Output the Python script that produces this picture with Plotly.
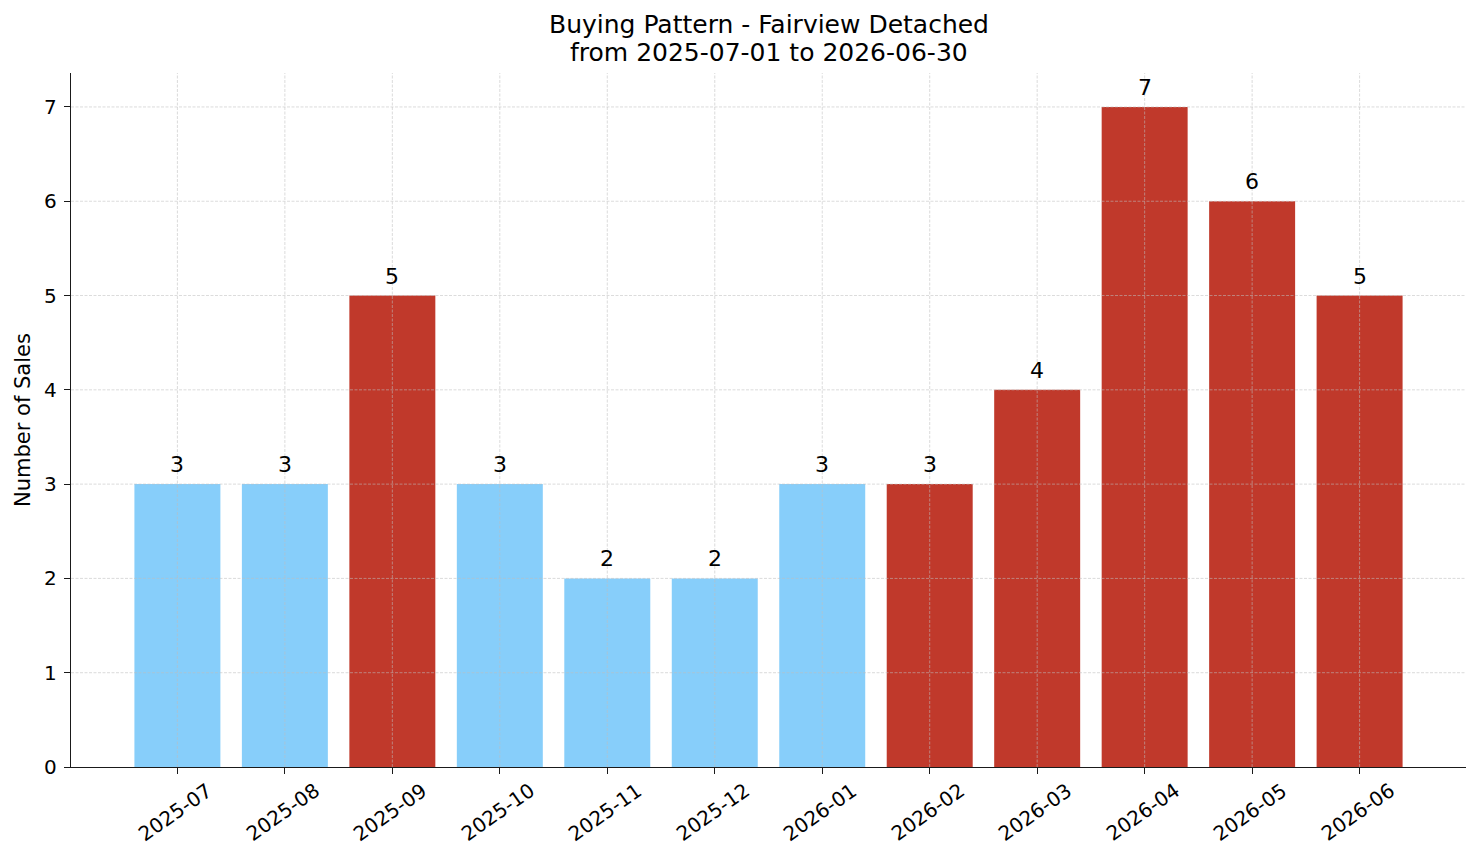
import plotly.graph_objects as go

months = ["2025-07", "2025-08", "2025-09", "2025-10", "2025-11", "2025-12",
          "2026-01", "2026-02", "2026-03", "2026-04", "2026-05", "2026-06"]
sales = [3, 3, 5, 3, 2, 2, 3, 3, 4, 7, 6, 5]
highlight = [False, False, True, False, False, False, False, True, True, True, True, True]
y_ticks = [0, 1, 2, 3, 4, 5, 6, 7]

title_line1 = "Buying Pattern - Fairview Detached"
title_line2 = "from 2025-07-01 to 2026-06-30"
y_title = "Number of Sales"

BLUE = "#87CEFA"
RED = "#C0392B"
FONT = "DejaVu Sans"
AXIS_COLOR = "#1a1a1a"
GRID = "rgba(190,190,190,0.7)"

W, H = 1481, 863
L, R, T, B = 71, 15, 73, 96
plot_h = H - T - B

fig = go.Figure()
fig.add_trace(go.Bar(
    x=months, y=sales,
    marker=dict(color=[RED if h else BLUE for h in highlight], line=dict(width=0)),
    hoverinfo="x+y",
))

shapes = []
for m in months:
    shapes.append(dict(type="line", xref="x", yref="paper", x0=m, x1=m, y0=0, y1=1,
                       line=dict(color=GRID, width=0.8, dash="3px,1.5px"), layer="above"))
for v in y_ticks[1:]:
    shapes.append(dict(type="line", xref="paper", yref="y", x0=0, x1=1, y0=v, y1=v,
                       line=dict(color=GRID, width=0.8, dash="3px,1.5px"), layer="above"))

annotations = []
for m, s in zip(months, sales):
    annotations.append(dict(x=m, y=s, xref="x", yref="y", text=str(s), showarrow=False,
                            xanchor="center", yanchor="bottom", yshift=5,
                            font=dict(family=FONT, size=22, color="black")))
for m in months:
    annotations.append(dict(x=m, y=0, xref="x", yref="y", text=m, showarrow=False,
                            textangle=-35, xanchor="center", yanchor="top",
                            yshift=-8, xshift=-2,
                            font=dict(family=FONT, size=20, color="black")))
annotations.append(dict(x=-(L - 23) / (W - L - R), y=0.5, xref="paper", yref="paper",
                        text=y_title, showarrow=False, textangle=-90,
                        xanchor="center", yanchor="middle",
                        font=dict(family=FONT, size=21, color="black")))
annotations.append(dict(x=0.5, y=(H - B - 25) / plot_h, xref="paper", yref="paper",
                        text=title_line1, showarrow=False, xanchor="center", yanchor="middle",
                        font=dict(family=FONT, size=25, color="black")))
annotations.append(dict(x=0.5, y=(H - B - 53) / plot_h, xref="paper", yref="paper",
                        text=title_line2, showarrow=False, xanchor="center", yanchor="middle",
                        font=dict(family=FONT, size=25, color="black")))

fig.update_layout(
    width=W, height=H,
    margin=dict(l=L, r=R, t=T, b=B, pad=0),
    paper_bgcolor="white", plot_bgcolor="white",
    bargap=0.2,
    showlegend=False,
    shapes=shapes,
    annotations=annotations,
    font=dict(family=FONT, size=20, color="black"),
    xaxis=dict(
        type="category", range=[-0.99, 11.99],
        showgrid=False, zeroline=False,
        showline=True, linecolor=AXIS_COLOR, linewidth=1.3,
        ticks="outside", ticklen=6, tickwidth=1.3, tickcolor=AXIS_COLOR,
        showticklabels=False,
    ),
    yaxis=dict(
        range=[0, 7.36],
        tickmode="array", tickvals=y_ticks, ticktext=[str(v) for v in y_ticks],
        showgrid=False, zeroline=False,
        showline=True, linecolor=AXIS_COLOR, linewidth=1.3,
        ticks="outside", ticklen=6, tickwidth=1.3, tickcolor=AXIS_COLOR,
        ticklabelstandoff=3,
        tickfont=dict(family=FONT, size=20, color="black"),
    ),
)

fig.write_html("out.html")
